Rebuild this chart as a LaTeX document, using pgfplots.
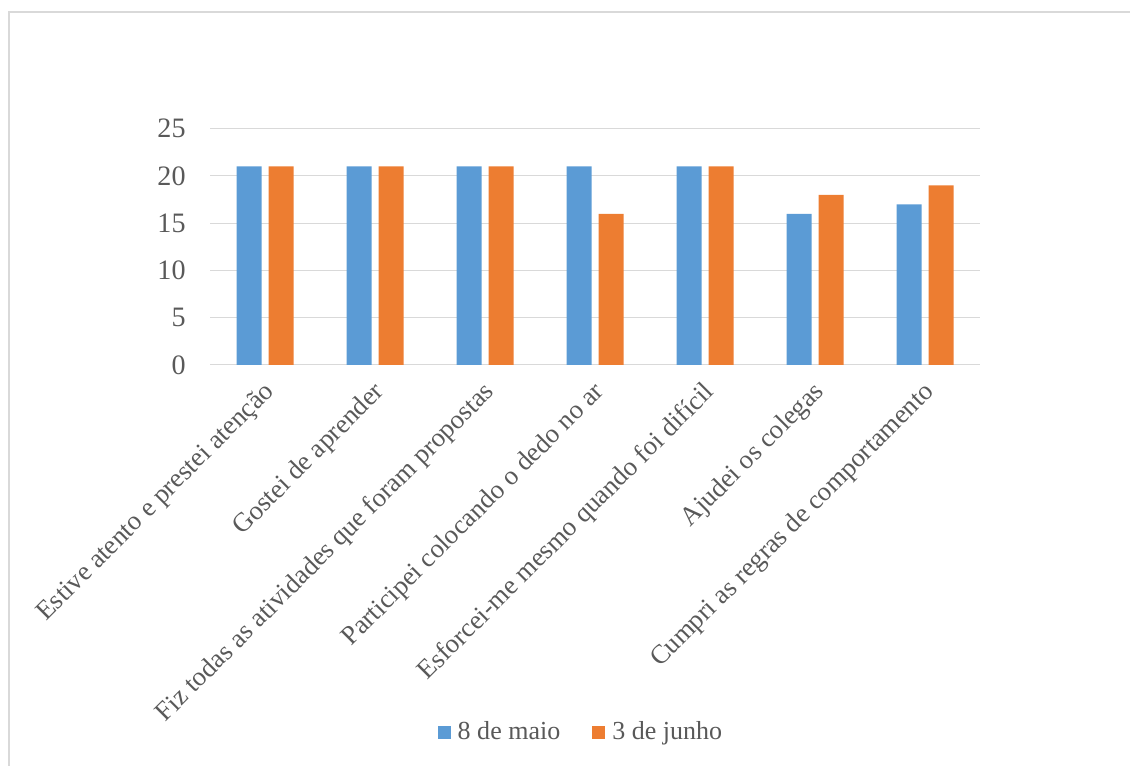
\documentclass[border=0pt]{standalone}
\usepackage{fontspec}
\setmainfont{Liberation Serif}
\usepackage{pgfplots}
\pgfplotsset{compat=1.18}
\definecolor{maio}{HTML}{5B9BD5}
\definecolor{junho}{HTML}{ED7D31}
\definecolor{txt}{HTML}{595959}
\definecolor{grd}{HTML}{D9D9D9}
\begin{document}
\begin{tikzpicture}
\useasboundingbox (0,0) rectangle (11.3,7.66);
\draw[grd, line width=0.2mm] (0.085,-1) rectangle (12,7.535);
\begin{axis}[
    at={(2.10cm,4.01cm)}, anchor=south west,
    scale only axis,
    width=7.7cm, height=2.363cm,
    ybar=0.07cm, bar width=0.25cm,
    xmin=-0.5, xmax=6.5,
    ymin=0, ymax=25,
    ytick={0,5,...,25},
    xtick={0,...,6},
    xticklabels={Estive atento e prestei atenção,Gostei de aprender,Fiz todas as atividades que foram propostas,Participei colocando o dedo no ar,Esforcei-me mesmo quando foi difícil,Ajudei os colegas,Cumpri as regras de comportamento},
    /pgf/number format/assume math mode=true,
    font=\fontsize{8}{9.6}\selectfont,
    tick label style={text=txt},
    yticklabel style={xshift=-0.12cm},
    xticklabel style={rotate=45, anchor=east, inner sep=1pt, yshift=-0.1cm, xshift=0.02cm,
        font=\fontsize{7.6}{9.1}\selectfont},
    major tick style={draw=none},
    axis x line*=bottom,
    axis y line*=left,
    y axis line style={draw=none},
    x axis line style={grd, line width=0.1mm, -},
    ymajorgrids,
    grid style={grd, line width=0.1mm},
    legend style={draw=none, at={(0.485,-1.557)}, anchor=center,
        legend columns=2, font=\fontsize{7.4}{8.9}\selectfont, text=txt,
        /tikz/every even column/.append style={column sep=0.25cm}},
    legend image code/.code={\fill[#1] (0cm,-0.065cm) rectangle (0.13cm,0.065cm);},
]
\addplot[fill=maio, draw=none] coordinates {(0,21) (1,21) (2,21) (3,21) (4,21) (5,16) (6,17)};
\addplot[fill=junho, draw=none] coordinates {(0,21) (1,21) (2,21) (3,16) (4,21) (5,18) (6,19)};
\legend{8 de maio, 3 de junho}
\end{axis}
\end{tikzpicture}
\end{document}
